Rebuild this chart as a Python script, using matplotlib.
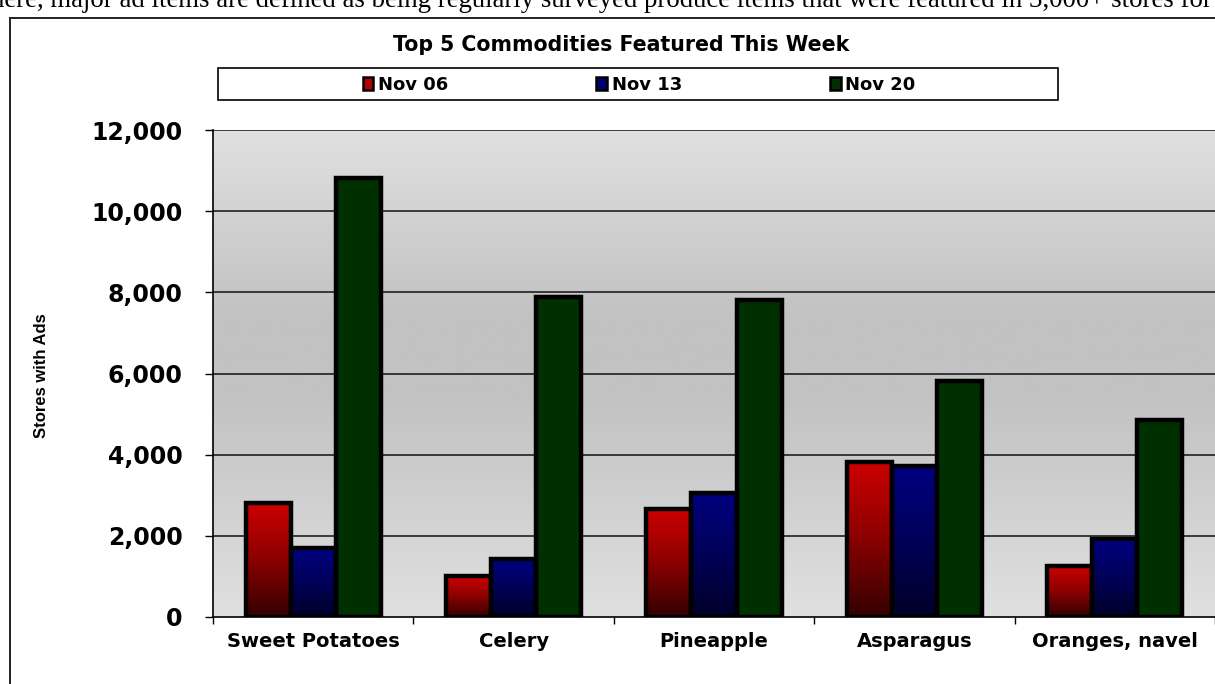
import numpy as np
import matplotlib
matplotlib.use("Agg")
import matplotlib.pyplot as plt
from matplotlib.patches import Rectangle, Patch
from matplotlib.lines import Line2D
from matplotlib.colors import LinearSegmentedColormap
from matplotlib.ticker import FuncFormatter
from matplotlib.font_manager import FontProperties

# Data
commodities = ["Sweet Potatoes", "Celery", "Pineapple", "Asparagus", "Oranges, navel"]
weeks = ["Nov 06", "Nov 13", "Nov 20"]
nov06 = [2800, 1000, 2650, 3830, 1250]
nov13 = [1700, 1430, 3060, 3720, 1930]
nov20 = [10820, 7890, 7810, 5820, 4860]
yticks = [0, 2000, 4000, 6000, 8000, 10000, 12000]

series = [nov06, nov13, nov20]
# gradient stops (bottom, middle, top) per series
grad_colors = [("#340000", "#8a0000", "#cc0000"),
               ("#000028", "#000058", "#000080"),
               ("#003000", "#003000", "#003000")]
legend_colors = ["#b00000", "#000070", "#003000"]

W, H = 1215, 684
fig = plt.figure(figsize=(W / 100, H / 100), dpi=100)
fig.patch.set_facecolor("white")

wide = ["DejaVu Sans"]

# Document text running above the chart frame
fig.text(-9 / W, 1.0 - 7 / H, "here, major ad items are defined as being regularly surveyed produce items "
         "that were featured in 3,000+ stores for",
         family=["Liberation Serif", "DejaVu Serif"], fontsize=19.3, va="baseline", ha="left")

# Outer chart frame
fig.add_artist(Line2D([10 / W, 10 / W], [0, 1 - 18 / H], transform=fig.transFigure,
                      color="#222222", lw=1.4))
fig.add_artist(Line2D([10 / W, 1.0], [1 - 18 / H, 1 - 18 / H], transform=fig.transFigure,
                      color="#222222", lw=1.4))

left, right, bottom, top = 213 / W, 1.0, 1 - 617 / H, 1 - 130 / H
ax = fig.add_axes([left, bottom, right - left, top - bottom])

# Plot area background: light at top and bottom, darker in the middle
yy = np.linspace(0, 1, 256)
shade = np.interp(yy, [0, 0.45, 0.62, 1.0], [224, 194, 194, 224]) / 255.0
bg = np.repeat(shade[:, None], 2, axis=1)
ax.imshow(np.dstack([bg, bg, bg]), extent=[0, len(commodities), 0, 12000], origin="lower",
          aspect="auto", zorder=0, interpolation="bilinear")

# Gridlines
for t in yticks[1:]:
    ax.axhline(t, color="#111111", lw=1.1, zorder=1)

x = np.arange(len(commodities)) + 0.5
bw = 0.225
offsets = [-bw, 0, bw]
for vals, off, stops in zip(series, offsets, grad_colors):
    cmap = LinearSegmentedColormap.from_list("g", list(stops))
    bars = ax.bar(x + off, vals, width=bw, facecolor="none", edgecolor="black",
                  linewidth=3.2, zorder=3)
    for b in bars:
        x0, y0 = b.get_x(), b.get_y()
        grad = np.linspace(0, 1, 128)[:, None]
        im = ax.imshow(grad, cmap=cmap, extent=[x0, x0 + b.get_width(), y0, y0 + b.get_height()],
                       origin="lower", aspect="auto", zorder=2, interpolation="bilinear")
        im.set_clip_path(b)

ax.set_xlim(0, len(commodities))
ax.set_ylim(0, 12000)

ax.set_yticks(yticks)
ax.yaxis.set_major_formatter(FuncFormatter(lambda v, p: f"{int(v):,}"))
ax.set_xticks(np.arange(len(commodities) + 1))
ax.set_xticklabels([])
ax.set_xticks(x, minor=True)
ax.set_xticklabels(commodities, minor=True)
ax.tick_params(axis="x", which="minor", length=0, pad=11)
ax.tick_params(axis="x", which="major", length=5, direction="out", width=1)
ax.tick_params(axis="y", length=6, direction="out", width=1, pad=16)
for lab in ax.get_yticklabels():
    lab.set_fontproperties(FontProperties(family=wide, weight="bold", size=17))
for lab in ax.get_xticklabels(minor=True):
    lab.set_fontproperties(FontProperties(family=wide, weight="bold", size=14))

for s in ["top", "right"]:
    ax.spines[s].set_visible(False)
for s in ["left", "bottom"]:
    ax.spines[s].set_linewidth(1.2)
    ax.spines[s].set_color("black")

fig.text(41 / W, 1 - 376 / H, "Stores with Ads", rotation=90, ha="center", va="center",
         fontsize=12, family=["Liberation Sans", "DejaVu Sans"], weight="bold")

# Title
fig.text(621 / W, 1 - 45 / H, "Top 5 Commodities Featured This Week", ha="center", va="center",
         fontsize=14.8, family=wide, weight="bold")

# Legend box
fig.add_artist(Rectangle((218 / W, 1 - 100 / H), (1058 - 218) / W, 32 / H,
                         transform=fig.transFigure, facecolor="white", edgecolor="black", lw=1.2))
handles = [Patch(facecolor=c, edgecolor="black", linewidth=1.8) for c in legend_colors]
leg = fig.legend(handles, weeks, loc="center", bbox_to_anchor=(639 / W, 1 - 85 / H), ncol=3,
                 frameon=False, handlelength=0.6, handleheight=0.7, handletextpad=0.25,
                 columnspacing=8.2, prop=FontProperties(family=wide, weight="bold", size=13))

fig.savefig("out.png", dpi=100, facecolor="white")
